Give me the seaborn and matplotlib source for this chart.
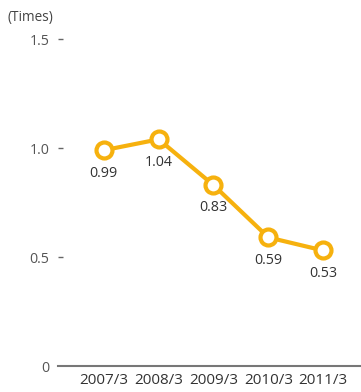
import matplotlib
matplotlib.use("Agg")
import matplotlib.pyplot as plt
import seaborn as sns
import pandas as pd

periods = ["2007/3", "2008/3", "2009/3", "2010/3", "2011/3"]
ratios = [0.99, 1.04, 0.83, 0.59, 0.53]
y_ticks = [0, 0.5, 1.0, 1.5]
y_tick_labels = ["0", "0.5", "1.0", "1.5"]
unit_label = "(Times)"

sns.set_theme(style="white")
plt.rcParams["font.family"] = ["Open Sans", "DejaVu Sans"]

df = pd.DataFrame({"period": periods, "ratio": ratios})
df["pos"] = range(len(periods))

fig = plt.figure(figsize=(3.61, 3.92), dpi=100)
ax = fig.add_axes([0.16, 0.0663, 0.84, 0.834])

line_color = "#F6B10E"
sns.lineplot(data=df, x="pos", y="ratio", ax=ax, color=line_color, linewidth=3,
             marker="o", markersize=11.5, markerfacecolor="white",
             markeredgecolor=line_color, markeredgewidth=3, clip_on=False)

for x, v in zip(df["pos"], df["ratio"]):
    ax.annotate(f"{v:.2f}", (x, v), xytext=(0, -11), textcoords="offset points",
                ha="center", va="top", fontsize=10.3, color="#333333")

ax.set_xlim(-0.84, 4.69)
ax.set_ylim(0, 1.5)
ax.set_xticks(list(df["pos"]))
ax.set_xticklabels(periods, fontsize=11, color="#333333")
ax.set_yticks(y_ticks)
ax.set_yticklabels(y_tick_labels, fontsize=10.3, color="#555555")
ax.tick_params(axis="x", length=0, pad=5)
ax.tick_params(axis="y", left=True, direction="in", length=3.5, width=1,
               color="#666666", pad=6)
ax.yaxis.get_major_ticks()[0].tick1line.set_visible(False)
ax.set_xlabel("")
ax.set_ylabel("")

for s in ["top", "right", "left"]:
    ax.spines[s].set_visible(False)
ax.spines["bottom"].set_color("#777777")
ax.spines["bottom"].set_linewidth(1.5)
ax.grid(False)

fig.text(8 / 361, 1 - 18 / 392, unit_label, fontsize=9.8, color="#444444",
         ha="left", va="center")

fig.savefig("out.png", dpi=100)
